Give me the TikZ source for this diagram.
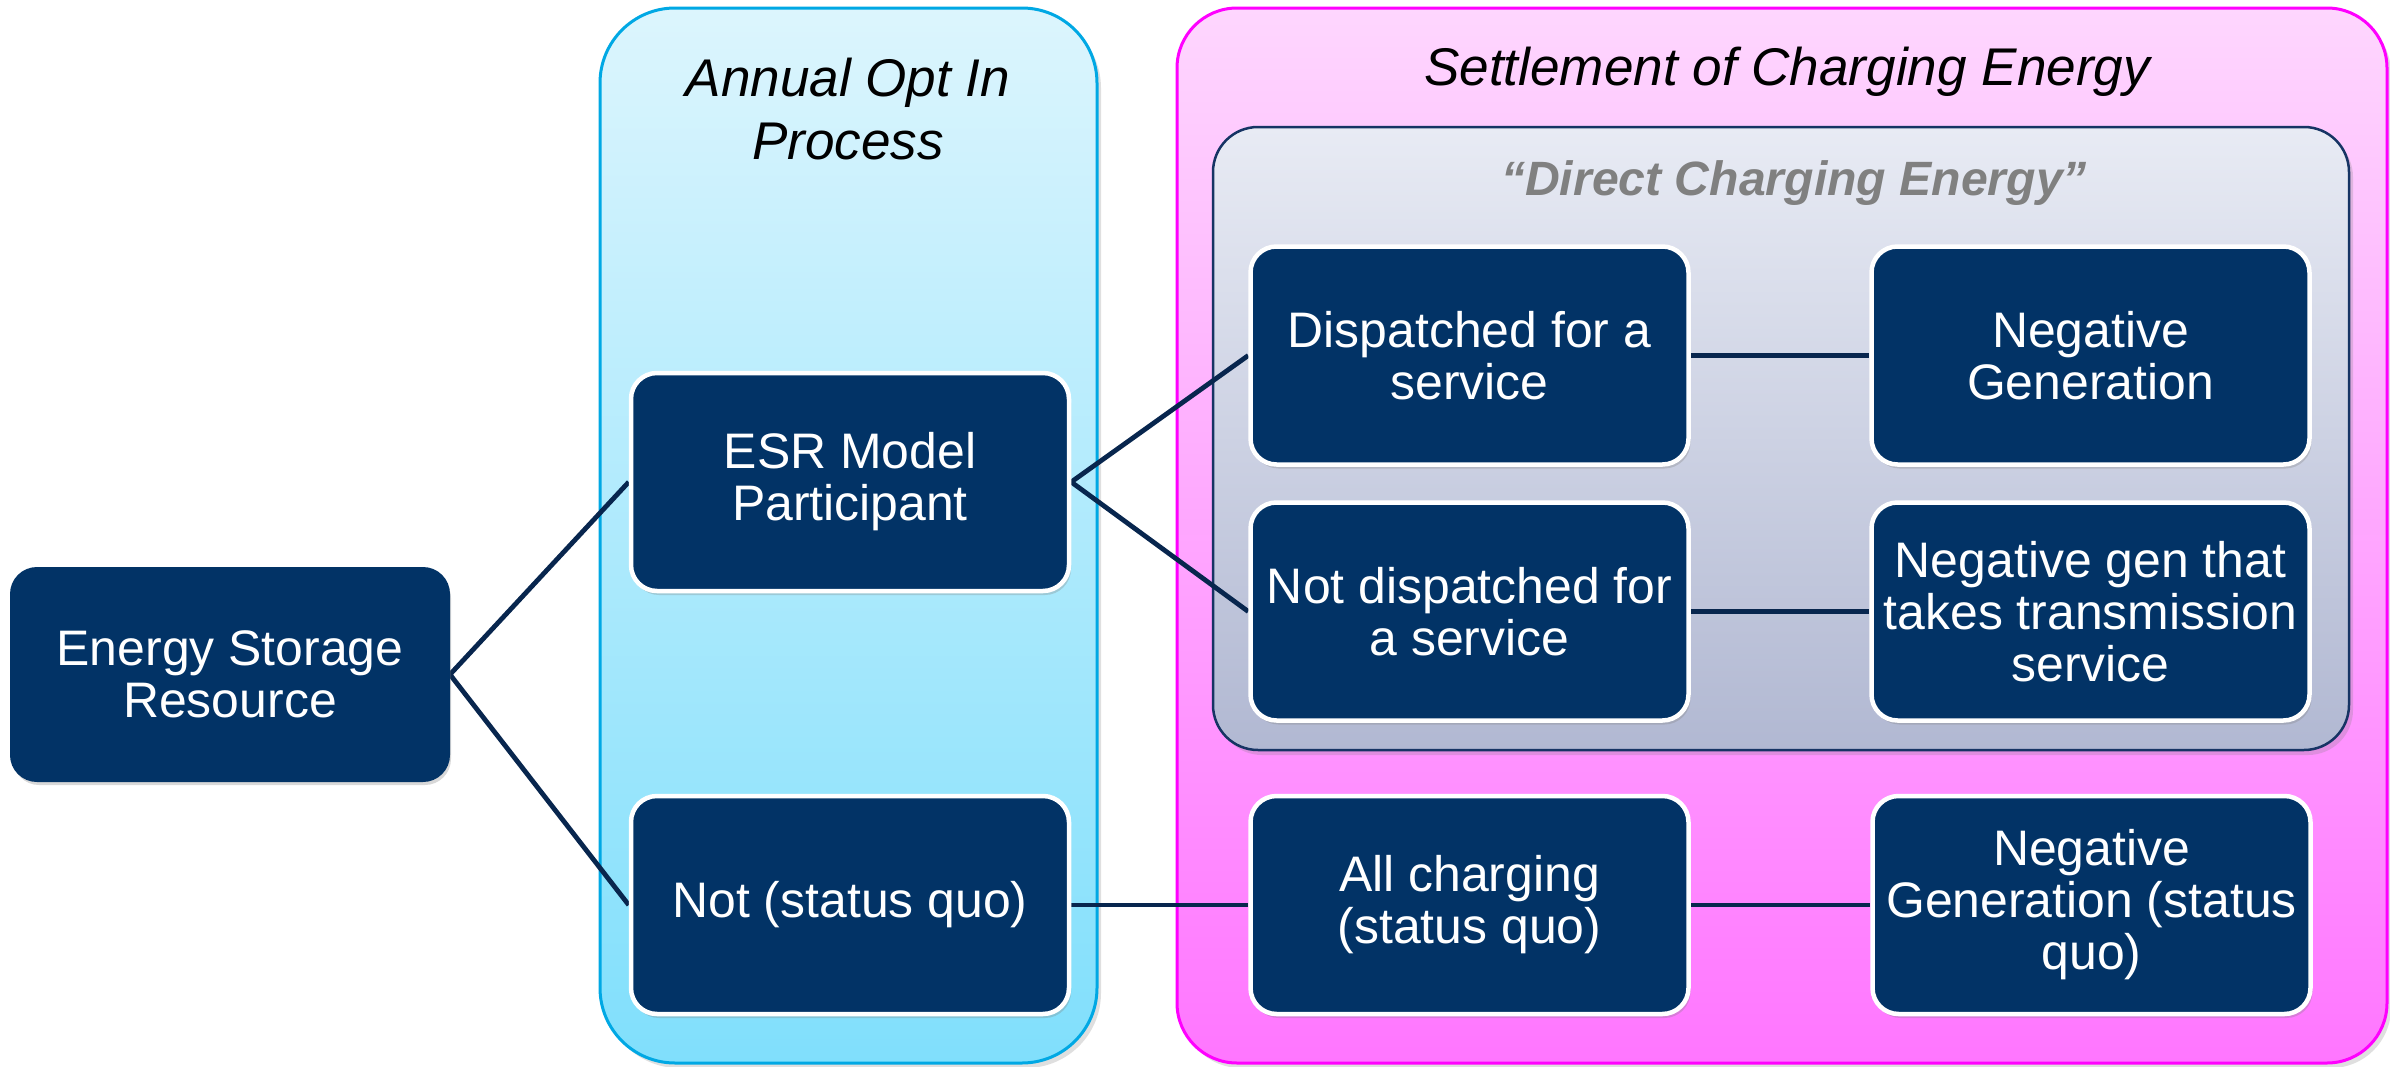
\documentclass[tikz,border=0pt]{standalone}
\usepackage{fontspec}
\setmainfont{Liberation Sans}
\usetikzlibrary{shadows}
\definecolor{navy}{RGB}{2,51,102}
\definecolor{linkc}{RGB}{8,38,78}
\definecolor{bluetop}{RGB}{220,245,253}
\definecolor{bluebot}{RGB}{128,223,252}
\definecolor{bluebd}{RGB}{0,168,228}
\definecolor{pinktop}{RGB}{254,214,254}
\definecolor{pinkbot}{RGB}{255,118,255}
\definecolor{pinkbd}{RGB}{255,0,255}
\definecolor{graytop}{RGB}{232,235,244}
\definecolor{graybot}{RGB}{177,184,210}
\definecolor{graybd}{RGB}{22,52,100}
\definecolor{dcetext}{RGB}{128,128,128}
\pgfdeclarelayer{back}
\pgfdeclarelayer{mid}
\pgfsetlayers{back,mid,main}
\begin{document}
\begin{tikzpicture}[x=0.1mm,y=-0.1mm,
  box/.style={draw=white, line width=0.45mm, fill=navy, rounded corners=2.6mm,
    text=white, align=center, inner sep=0pt,
    minimum width=43.8mm, minimum height=21.8mm,
    font=\fontsize{14.2pt}{14.8pt}\selectfont,
    drop shadow={shadow xshift=0.2mm, shadow yshift=-0.4mm, opacity=0.3}},
  link/.style={draw=linkc, line width=0.48mm},
  paneltitle/.style={align=center, inner sep=0pt,
    font=\itshape\fontsize{15.1pt}{17.9pt}\selectfont},
  panelshadow/.style={drop shadow={shadow xshift=0.4mm, shadow yshift=-0.5mm, opacity=0.25}}]
\useasboundingbox (0,0) rectangle (2390,1067);

\begin{pgfonlayer}{back}
  \fill[white] (0,0) rectangle (2390,1067);
  \path[draw=bluebd, line width=0.3mm, top color=bluetop, bottom color=bluebot,
        rounded corners=7.5mm, panelshadow] (600,8) rectangle (1097,1063);
  \path[draw=pinkbd, line width=0.3mm, top color=pinktop, bottom color=pinkbot,
        rounded corners=6mm, panelshadow] (1177,8) rectangle (2387,1063);
  \path[draw=graybd, line width=0.25mm, top color=graytop, bottom color=graybot,
        rounded corners=4.5mm, panelshadow] (1213,127) rectangle (2349,750);
\end{pgfonlayer}

\node[paneltitle] (t1) at (848,109) {Annual Opt In\\Process};
\node[paneltitle] (t2) at (1787,72) {Settlement of Charging Energy};
\node[align=center, inner sep=0pt, text=dcetext,
      font=\bfseries\itshape\fontsize{13.7pt}{16pt}\selectfont] (t3) at (1794,183)
      {“Direct Charging Energy”};

\node[box, draw=navy, line width=0.2mm, minimum width=43.8mm, minimum height=21.3mm] (esr) at (230,674.5) {Energy Storage\\Resource};
\node[box] (esrm) at (850,482) {ESR Model\\Participant};
\node[box] (notsq) at (850,905) {Not (status quo)};
\node[box] (disp) at (1469.5,355.5) {Dispatched for a\\service};
\node[box] (ng) at (2090.5,355.5) {Negative\\Generation};
\node[box] (notdisp) at (1469.5,611.5) {Not dispatched for\\a service};
\node[box] (ngt) at (2090.5,611.5) {Negative gen that\\takes transmission\\service};
\node[box] (allc) at (1469.5,905) {All charging\\(status quo)};
\node[box] (ngsq) at (2091.5,905) {Negative\\Generation (status\\quo)};

\begin{pgfonlayer}{mid}
  \draw[link] (esr.east) -- (esrm.west);
  \draw[link] (esr.east) -- (notsq.west);
  \draw[link] (esrm.east) -- (disp.west);
  \draw[link] (esrm.east) -- (notdisp.west);
  \draw[link] (disp.east) -- (ng.west);
  \draw[link] (notdisp.east) -- (ngt.west);
  \draw[link] (notsq.east) -- (allc.west);
  \draw[link] (allc.east) -- (ngsq.west);
\end{pgfonlayer}
\end{tikzpicture}
\end{document}
